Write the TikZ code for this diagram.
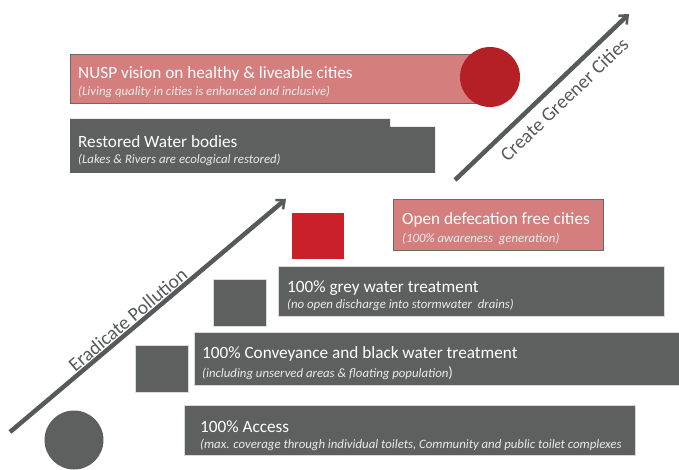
\documentclass[tikz,border=0pt]{standalone}
\usepackage{fontspec}
\setmainfont{Carlito}
\usetikzlibrary{arrows.meta}
\definecolor{boxgray}{HTML}{5E5F5F}
\definecolor{boxpink}{HTML}{D57E7E}
\definecolor{deepred}{HTML}{B51F26}
\definecolor{brightred}{HTML}{C9202A}
\definecolor{arrowgray}{HTML}{565A5A}
\definecolor{edgegray}{HTML}{6A6A6A}
\tikzset{
  graybox/.style={fill=boxgray, draw=white!85!black, line width=0.6pt},
  pinkbox/.style={fill=boxpink, draw=edgegray, line width=1.4pt},
  title/.style={anchor=base west, inner sep=0pt, text=white, font=\fontsize{17.2}{20}\selectfont},
  subtitle/.style={anchor=base west, inner sep=0pt, text=white!92!black, font=\fontsize{12.8}{15}\selectfont\itshape},
  trend/.style={draw=arrowgray, line width=4.5pt, -{Straight Barb[length=7pt,width=12pt,line width=2.5pt]}},
  trendlabel/.style={inner sep=0pt, text=arrowgray, font=\fontsize{19.5}{22}\selectfont, sloped},
}
\begin{document}
\begin{tikzpicture}[x=1pt,y=-1pt]
\useasboundingbox (0,0) rectangle (679,470);

% top level: vision
\node[pinkbox, anchor=north west, minimum width=420pt, minimum height=49pt, inner sep=0pt] (nusp) at (70,54) {};
\node[circle, fill=deepred, minimum size=60pt, inner sep=0pt] (redcircle) at (490,77) {};
\node[title] (nuspt) at (78,79) {NUSP vision on healthy \& liveable cities};
\node[subtitle] (nusps) at (78,96) {(Living quality in cities is enhanced and inclusive)};

% restored water bodies (stepped top edge)
\fill[boxgray] (70,119) -- (390,119) -- (390,127) -- (435,127) -- (435,173) -- (70,173) -- cycle;
\node[title] (watert) at (78,148) {Restored Water bodies};
\node[subtitle] (waters) at (78,164) {(Lakes \& Rivers are ecological restored)};

% open defecation free cities
\node[pinkbox, anchor=north west, minimum width=210pt, minimum height=51pt, inner sep=0pt] (odf) at (393,199) {};
\node[title] (odft) at (402,225) {Open defecation free cities};
\node[subtitle] (odfs) at (402,242) {(100\% awareness\ \ generation)};

% steps
\node[fill=brightred, anchor=north west, minimum width=52pt, minimum height=46pt, inner sep=0pt] (redsq) at (292,213) {};
\node[graybox, anchor=north west, minimum width=53pt, minimum height=47pt, inner sep=0pt] (sq2) at (213,279) {};
\node[graybox, anchor=north west, minimum width=53pt, minimum height=47pt, inner sep=0pt] (sq1) at (135,345) {};
\node[circle, fill=boxgray, minimum size=59pt, inner sep=0pt] (graycircle) at (74,440) {};

\node[graybox, anchor=north west, minimum width=386pt, minimum height=50pt, inner sep=0pt] (grey) at (278,266) {};
\node[title] (greyt) at (287,292) {100\% grey water treatment};
\node[subtitle] (greys) at (287,308) {(no open discharge into stormwater\ \ drains)};

\node[graybox, anchor=north west, minimum width=490pt, minimum height=53pt, inner sep=0pt] (conv) at (194,332) {};
\node[title] (convt) at (202,358) {100\% Conveyance and black water treatment};
\node[subtitle] (convs) at (202,377) {(including unserved areas \& floating population{\upshape\fontsize{15}{15}\selectfont)}};

\node[graybox, anchor=north west, minimum width=451pt, minimum height=50pt, inner sep=0pt] (access) at (184,405) {};
\node[title] (accesst) at (200,432) {100\% Access};
\node[subtitle] (accesss) at (200,448) {(max. coverage through individual toilets, Community and public toilet complexes};

% trend arrows with their labels
\coordinate (epstart) at (10,432);
\coordinate (epend) at (286,199);
\draw[trend] (epstart) -- node[trendlabel, above=1pt, pos=0.45] (eplabel) {Eradicate Pollution} (epend);

\coordinate (gcstart) at (455,180);
\coordinate (gcend) at (629,14);
\draw[trend] (gcstart) -- node[trendlabel, below=8pt, pos=0.56] (gclabel) {Create Greener Cities} (gcend);
\end{tikzpicture}
\end{document}
